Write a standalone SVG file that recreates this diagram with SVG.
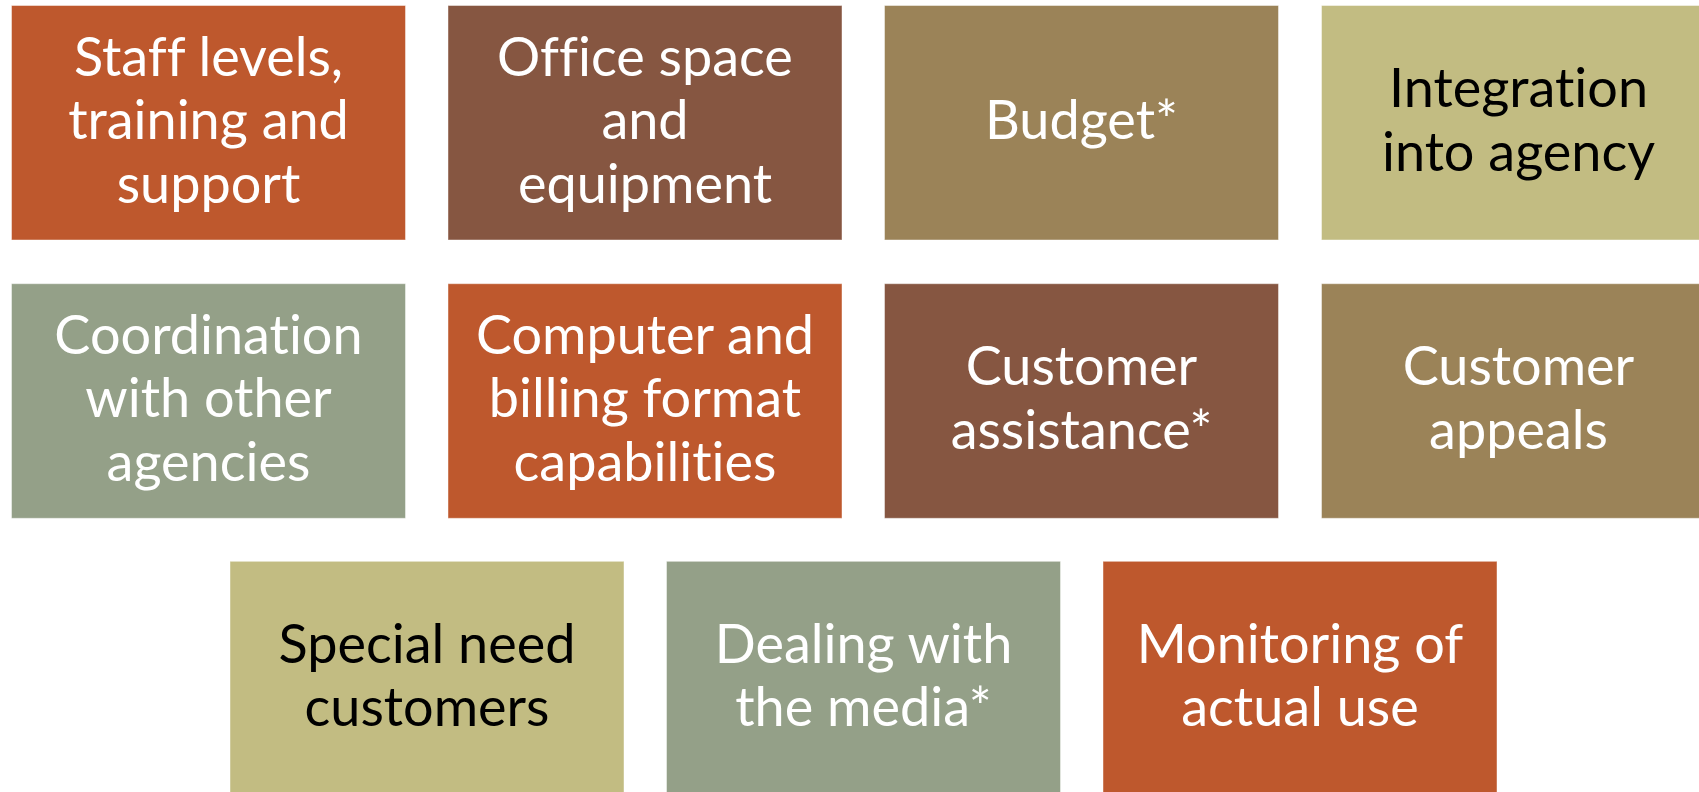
<svg xmlns="http://www.w3.org/2000/svg" width="1699" height="792" viewBox="0 0 1699 792">
<style>
rect{stroke:#ffffff;stroke-opacity:0.45;stroke-width:1}
text{font-family:Lato,"Open Sans","Liberation Sans",sans-serif;font-size:54px;text-anchor:middle;font-variant-ligatures:none;font-feature-settings:"liga" 0,"clig" 0,"dlig" 0}
.w{fill:#ffffff}
.k{fill:#000000}
.c1{fill:#BE582D}
.c2{fill:#865641}
.c3{fill:#9B8358}
.c4{fill:#C2BC82}
.c5{fill:#94A088}
</style>
<rect width="1699" height="792" fill="#ffffff" style="stroke:none"/>
<g id="n1"><rect class="c1" x="11.5" y="5.5" width="394" height="234.5"/>
<text class="w" x="208.5"><tspan x="208.5" y="75.5">Staff levels,</tspan><tspan x="208.5" y="139">training and</tspan><tspan x="208.5" y="202.5">support</tspan></text></g>
<g id="n2"><rect class="c2" x="448" y="5.5" width="394" height="234.5"/>
<text class="w"><tspan x="645" y="75.5">Office space</tspan><tspan x="645" y="139">and</tspan><tspan x="645" y="202.5">equipment</tspan></text></g>
<g id="n3"><rect class="c3" x="884.5" y="5.5" width="394" height="234.5"/>
<text class="w"><tspan x="1081.5" y="139">Budget*</tspan></text></g>
<g id="n4"><rect class="c4" x="1321.5" y="5.5" width="394" height="234.5"/>
<text class="k"><tspan x="1518.5" y="107.25">Integration</tspan><tspan x="1518.5" y="170.75">into agency</tspan></text></g>
<g id="n5"><rect class="c5" x="11.5" y="283.7" width="394" height="234.6"/>
<text class="w"><tspan x="208.5" y="353.5">Coordination</tspan><tspan x="208.5" y="417">with other</tspan><tspan x="208.5" y="480.5">agencies</tspan></text></g>
<g id="n6"><rect class="c1" x="448" y="283.7" width="394" height="234.6"/>
<text class="w"><tspan x="645" y="353.5">Computer and</tspan><tspan x="645" y="417">billing format</tspan><tspan x="645" y="480.5">capabilities</tspan></text></g>
<g id="n7"><rect class="c2" x="884.5" y="283.7" width="394" height="234.6"/>
<text class="w"><tspan x="1081.5" y="385.25">Customer</tspan><tspan x="1081.5" y="448.75">assistance*</tspan></text></g>
<g id="n8"><rect class="c3" x="1321.5" y="283.7" width="394" height="234.6"/>
<text class="w"><tspan x="1518.5" y="385.25">Customer</tspan><tspan x="1518.5" y="448.75">appeals</tspan></text></g>
<g id="n9"><rect class="c4" x="230" y="561.3" width="394" height="234.6"/>
<text class="k"><tspan x="427" y="662.5">Special need</tspan><tspan x="427" y="726">customers</tspan></text></g>
<g id="n10"><rect class="c5" x="666.5" y="561.3" width="394" height="234.6"/>
<text class="w"><tspan x="863.5" y="662.5">Dealing with</tspan><tspan x="863.5" y="726">the media*</tspan></text></g>
<g id="n11"><rect class="c1" x="1103" y="561.3" width="394" height="234.6"/>
<text class="w"><tspan x="1300" y="662.5">Monitoring of</tspan><tspan x="1300" y="726">actual use</tspan></text></g>
<g id="connectors"></g>
</svg>
